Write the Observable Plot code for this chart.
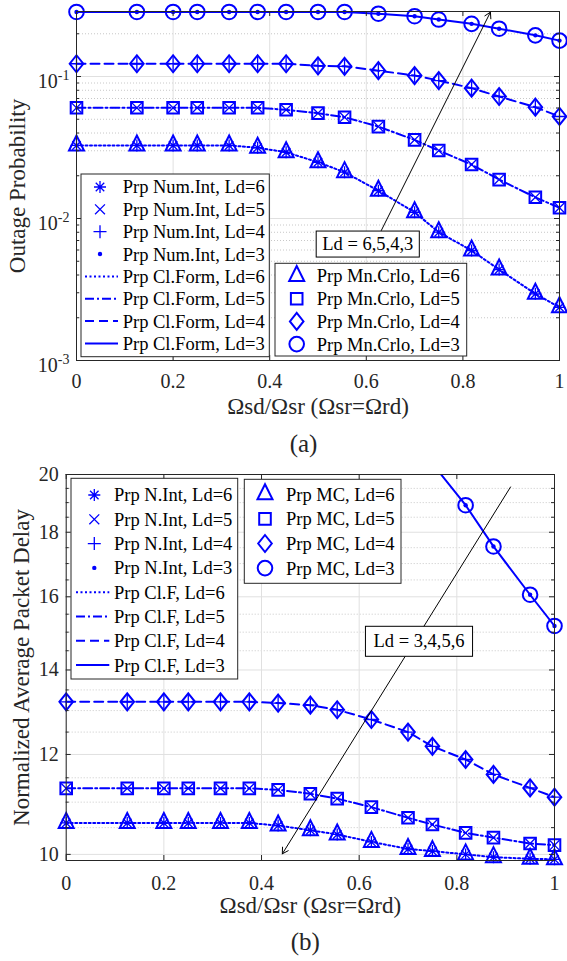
<!DOCTYPE html>
<html><head><meta charset="utf-8">
<script src="https://cdn.jsdelivr.net/npm/d3@7"></script>
<script src="https://cdn.jsdelivr.net/npm/@observablehq/plot@0.6"></script>
<style>
html,body{margin:0;padding:0;background:#fff;}
#wrap{position:relative;width:567px;height:961px;overflow:hidden;font-family:"Liberation Serif","Times New Roman",serif;}
#wrap svg{position:absolute;left:0;top:0;}
</style></head><body><div id="wrap"></div>
<script>
// ---------- data ----------
const xs = [0, 0.125, 0.2, 0.25, 0.316, 0.375, 0.434, 0.5, 0.555, 0.625, 0.7, 0.75, 0.818, 0.875, 0.95, 1];

// (a) outage probability
const outLd6 = [0.0327,0.0327,0.0327,0.0327,0.0327,0.0315,0.0293,0.0249,0.0212,0.0157,0.01107,0.00801,0.00595,0.00437,0.00295,0.00237];
const outLd5 = [0.0602,0.0602,0.0602,0.0602,0.0602,0.0602,0.0583,0.0552,0.0517,0.0444,0.0358,0.0301,0.0240,0.0188,0.0141,0.0119];
const outLd4 = [0.123,0.123,0.123,0.123,0.123,0.123,0.123,0.119,0.118,0.110,0.1016,0.0937,0.0828,0.0723,0.0608,0.0523];
const outLd3 = [0.285,0.285,0.285,0.285,0.285,0.285,0.285,0.285,0.285,0.277,0.266,0.252,0.235,0.217,0.195,0.179];

// (b) normalized average packet delay
const delLd6 = [10.59,10.59,10.59,10.59,10.59,10.59,10.54,10.45,10.37,10.23,10.10,10.06,10.00,9.95,9.92,9.91];
const delLd5 = [11.28,11.28,11.28,11.28,11.28,11.28,11.25,11.17,11.07,10.90,10.69,10.56,10.40,10.31,10.20,10.17];
const delLd4 = [13.21,13.21,13.21,13.21,13.21,13.21,13.18,13.13,13.02,12.79,12.50,12.18,11.89,11.57,11.29,11.10];
const delLd3 = [null,null,null,null,null,null,null,null,null,null,null,20.4,18.91,17.54,16.06,15.17];

const xTicks = [0, 0.2, 0.4, 0.6, 0.8, 1];
const yTicksA = [0.001, 0.01, 0.1];
const yTicksB = [10, 12, 14, 16, 18, 20];

const xLabel = "Ωsd/Ωsr (Ωsr=Ωrd)";
const yLabelA = "Outage Probability";
const yLabelB = "Normalized Average Packet Delay";
const captionA = "(a)";
const captionB = "(b)";

const legendA1 = ["Prp Num.Int, Ld=6","Prp Num.Int, Ld=5","Prp Num.Int, Ld=4","Prp Num.Int, Ld=3","Prp Cl.Form, Ld=6","Prp Cl.Form, Ld=5","Prp Cl.Form, Ld=4","Prp Cl.Form, Ld=3"];
const legendA2 = ["Prp Mn.Crlo, Ld=6","Prp Mn.Crlo, Ld=5","Prp Mn.Crlo, Ld=4","Prp Mn.Crlo, Ld=3"];
const legendB1 = ["Prp N.Int, Ld=6","Prp N.Int, Ld=5","Prp N.Int, Ld=4","Prp N.Int, Ld=3","Prp Cl.F, Ld=6","Prp Cl.F, Ld=5","Prp Cl.F, Ld=4","Prp Cl.F, Ld=3"];
const legendB2 = ["Prp MC, Ld=6","Prp MC, Ld=5","Prp MC, Ld=4","Prp MC, Ld=3"];

const arrowA = [{x1: 0.631, y1: 0.00823, x2: 0.857, y2: 0.284}];
const noteA = [{x: 0.603, y: 0.0066, label: "Ld = 6,5,4,3"}];
const arrowB = [{x1: 0.910, y1: 19.55, x2: 0.4426, y2: 10.01}];
const noteB = [{x: 0.7225, y: 14.75, label: "Ld = 3,4,5,6"}];

// ---------- styles ----------
const BLUE = "#0000ff";
const AX = "#262626";
const R = s => Math.sqrt(s / Math.PI);
const SYM = {
  triangle: {draw(c, s) { const r = R(s); c.moveTo(0, -4/3*r); c.lineTo(r, 2/3*r); c.lineTo(-r, 2/3*r); c.closePath(); }},
  square: {draw(c, s) { const r = R(s); c.moveTo(-r,-r); c.lineTo(r,-r); c.lineTo(r,r); c.lineTo(-r,r); c.closePath(); }},
  diamond: {draw(c, s) { const r = R(s); c.moveTo(0,-1.25*r); c.lineTo(r,0); c.lineTo(0,1.25*r); c.lineTo(-r,0); c.closePath(); }},
  circle: {draw(c, s) { const r = R(s); c.moveTo(r,0); c.arc(0,0,r,0,2*Math.PI); c.closePath(); }},
  asterisk: {draw(c, s) { const r = R(s); for (const a of [0,45,90,135]) { const t=a*Math.PI/180, dx=r*Math.cos(t), dy=r*Math.sin(t); c.moveTo(-dx,-dy); c.lineTo(dx,dy);} }},
  times: {draw(c, s) { const r = R(s)*Math.SQRT1_2; c.moveTo(-r,-r); c.lineTo(r,r); c.moveTo(-r,r); c.lineTo(r,-r); }},
  plus: {draw(c, s) { const r = R(s); c.moveTo(-r,0); c.lineTo(r,0); c.moveTo(0,-r); c.lineTo(0,r); }},
  point: {draw(c, s) { const r = R(s); c.moveTo(r,0); c.arc(0,0,r,0,2*Math.PI); c.closePath(); }}
};
const ST = {
  6: {mc: SYM.triangle, mcR: 7.5, ni: SYM.asterisk, niR: 6, dash: "2,2.5"},
  5: {mc: SYM.square, mcR: 5.8, ni: SYM.times, niR: 7, dash: "9,3,2,3"},
  4: {mc: SYM.diamond, mcR: 6.8, ni: SYM.plus, niR: 7, dash: "9,5"},
  3: {mc: SYM.circle, mcR: 7.3, ni: SYM.point, niR: 2.2, dash: "none"}
};

function seriesMarks(vals, st, maxY) {
  const data = xs.map((x, i) => ({x, y: vals[i]})).filter(d => d.y != null);
  const shown = maxY ? data.filter(d => d.y <= maxY) : data;
  const isPt = st.ni === SYM.point;
  return [
    Plot.line(data, {x: "x", y: "y", stroke: BLUE, strokeWidth: 2, strokeDasharray: st.dash, clip: !!maxY}),
    Plot.dot(shown, {x: "x", y: "y", symbol: st.ni, r: st.niR, stroke: isPt ? "none" : BLUE, strokeWidth: 1.3, fill: isPt ? BLUE : "none"}),
    Plot.dot(shown, {x: "x", y: "y", symbol: st.mc, r: st.mcR, stroke: BLUE, strokeWidth: 2, fill: "none"})
  ];
}

function tickMarks(yMajor, yMinor, pw, ph) {
  const L = 5, l = 3;
  return [
    Plot.tickX(xTicks, {x: d => d, insetTop: ph - L, stroke: AX}),
    Plot.tickX(xTicks, {x: d => d, insetBottom: ph - L, stroke: AX}),
    Plot.tickY(yMajor, {y: d => d, insetRight: pw - L, stroke: AX}),
    Plot.tickY(yMajor, {y: d => d, insetLeft: pw - L, stroke: AX}),
    Plot.tickY(yMinor, {y: d => d, insetRight: pw - l, stroke: AX}),
    Plot.tickY(yMinor, {y: d => d, insetLeft: pw - l, stroke: AX})
  ];
}

const styleObj = {background: "transparent", fontFamily: '"Liberation Serif","Times New Roman",serif', color: AX, overflow: "visible"};
const TXT = {textAnchor: "middle", lineAnchor: "middle", fill: AX};

// ---------- plot (a) ----------
const topA = 0.287;
const minorA = [];
for (const k of [-3, -2, -1]) for (let m = 2; m <= 9; m++) { const v = m * Math.pow(10, k); if (v < topA) minorA.push(v); }
const mA = {t: 11, b: 360, l: 76, r: 559};
const svgA = Plot.plot({
  width: 567, height: 961,
  marginTop: mA.t, marginBottom: 961 - mA.b, marginLeft: mA.l, marginRight: 567 - mA.r,
  style: styleObj,
  x: {domain: [0, 1], label: null},
  y: {type: "log", domain: [0.001, topA], label: null},
  marks: [
    Plot.ruleY(minorA, {stroke: "#c8c8c8", strokeDasharray: "1,2"}),
    Plot.ruleY(yTicksA, {stroke: "#e0e0e0"}),
    Plot.ruleX(xTicks, {stroke: "#e0e0e0"}),
    ...seriesMarks(outLd6, ST[6]),
    ...seriesMarks(outLd5, ST[5]),
    ...seriesMarks(outLd4, ST[4]),
    ...seriesMarks(outLd3, ST[3]),
    Plot.frame({stroke: AX, strokeWidth: 1}),
    ...tickMarks(yTicksA, minorA, mA.r - mA.l, mA.b - mA.t),
    Plot.axisX({ticks: xTicks, tickSize: 0, tickPadding: 13, tickFormat: d => String(d), fontSize: 20, label: null}),
    Plot.axisY({ticks: yTicksA, tickSize: 0, tickPadding: 7, tickFormat: d => "10^" + Math.round(Math.log10(d)), fontSize: 20, label: null}),
    Plot.text([xLabel], {...TXT, text: d => d, frameAnchor: "bottom", dy: 46.4, fontSize: 23}),
    Plot.text([captionA], {...TXT, text: d => d, frameAnchor: "bottom", dx: -14.5, dy: 83.6, fontSize: 25}),
    Plot.text([yLabelA], {...TXT, text: d => d, frameAnchor: "left", dx: 17 - mA.l, rotate: -90, fontSize: 23}),
    Plot.arrow(arrowA, {x1: "x1", y1: "y1", x2: "x2", y2: "y2", stroke: "black", strokeWidth: 1, headLength: 10}),
    Plot.text(noteA, {...TXT, x: "x", y: "y", text: "label", fontSize: 18.5, fill: "black"})
  ]
});

// ---------- plot (b) ----------
const botB = 9.889;
const minorB = d3.range(10, 20.001, 0.5).filter(v => !yTicksB.includes(v));
const mB = {t: 474, b: 860, l: 65.7, r: 554};
const svgB = Plot.plot({
  width: 567, height: 961,
  marginTop: mB.t, marginBottom: 961 - mB.b, marginLeft: mB.l, marginRight: 567 - mB.r,
  style: styleObj,
  x: {domain: [0, 1], label: null},
  y: {type: "log", domain: [botB, 20], label: null},
  marks: [
    Plot.ruleY(minorB, {stroke: "#c8c8c8", strokeDasharray: "1,2"}),
    Plot.ruleY(yTicksB, {stroke: "#e0e0e0"}),
    Plot.ruleX(xTicks, {stroke: "#e0e0e0"}),
    ...seriesMarks(delLd6, ST[6]),
    ...seriesMarks(delLd5, ST[5]),
    ...seriesMarks(delLd4, ST[4]),
    ...seriesMarks(delLd3, ST[3], 20),
    Plot.frame({stroke: AX, strokeWidth: 1}),
    ...tickMarks(yTicksB, minorB, mB.r - mB.l, mB.b - mB.t),
    Plot.axisX({ticks: xTicks, tickSize: 0, tickPadding: 15, tickFormat: d => String(d), fontSize: 20, label: null}),
    Plot.axisY({ticks: yTicksB, tickSize: 0, tickPadding: 7.4, tickFormat: d => String(d), fontSize: 20, label: null}),
    Plot.text([xLabel], {...TXT, text: d => d, frameAnchor: "bottom", dy: 45.5, fontSize: 23}),
    Plot.text([captionB], {...TXT, text: d => d, frameAnchor: "bottom", dx: -5, dy: 81.6, fontSize: 25}),
    Plot.text([yLabelB], {...TXT, text: d => d, frameAnchor: "left", dx: 21 - mB.l, rotate: -90, fontSize: 23}),
    Plot.arrow(arrowB, {x1: "x1", y1: "y1", x2: "x2", y2: "y2", stroke: "black", strokeWidth: 1, headLength: 10}),
    Plot.text(noteB, {...TXT, x: "x", y: "y", text: "label", fontSize: 18.5, fill: "black"})
  ]
});

const wrap = document.getElementById("wrap");
wrap.append(svgA, svgB);

// superscript exponents on log ticks
d3.select(svgA).selectAll("text").each(function () {
  const m = /^10\^(-?\d+)$/.exec(this.textContent);
  if (!m) return;
  this.textContent = "";
  const sel = d3.select(this);
  sel.append("tspan").attr("dy", 5).text("10");
  sel.append("tspan").attr("dy", -8).attr("font-size", 14).text(m[1]);
});

// boxes around annotation labels
function boxText(svg, label, padX, padY) {
  d3.select(svg).selectAll("text").filter(function () { return this.textContent === label; }).each(function () {
    const bb = this.getBBox();
    const rect = document.createElementNS("http://www.w3.org/2000/svg", "rect");
    rect.setAttribute("x", bb.x - padX); rect.setAttribute("y", bb.y - padY);
    rect.setAttribute("width", bb.width + 2 * padX); rect.setAttribute("height", bb.height + 2 * padY);
    rect.setAttribute("fill", "white"); rect.setAttribute("stroke", "black"); rect.setAttribute("stroke-width", 1);
    const tr = this.getAttribute("transform"); if (tr) rect.setAttribute("transform", tr);
    this.parentNode.insertBefore(rect, this);
  });
}
boxText(svgA, noteA[0].label, 6, 3);
boxText(svgB, noteB[0].label, 8, 5);

// legends
function legend(svg, box, labels, rows, cfg) {
  const g = d3.select(svg).append("g").attr("text-anchor", "start");
  g.append("rect").attr("x", box.x).attr("y", box.y).attr("width", box.w).attr("height", box.h)
    .attr("fill", "white").attr("stroke", AX).attr("stroke-width", 1);
  labels.forEach((label, i) => {
    const y = cfg.y0 + i * cfg.dy;
    const row = rows[i];
    if (row.dash) g.append("line").attr("x1", cfg.l1).attr("x2", cfg.l2).attr("y1", y).attr("y2", y)
      .attr("stroke", BLUE).attr("stroke-width", 2).attr("stroke-dasharray", row.dash);
    if (row.sym) g.append("path").attr("transform", `translate(${cfg.mx},${y})`)
      .attr("d", d3.symbol(row.sym, Math.PI * row.r * row.r)())
      .attr("fill", row.fill ? BLUE : "none").attr("stroke", row.fill ? "none" : BLUE).attr("stroke-width", row.sw || 2);
    g.append("text").attr("x", cfg.tx).attr("y", y).attr("dy", "0.35em").attr("text-anchor", "start")
      .attr("font-size", 18.5).attr("fill", "black").text(label);
  });
}
const rowsLeft = [
  {sym: SYM.asterisk, r: 6, sw: 1.3}, {sym: SYM.times, r: 7, sw: 1.3}, {sym: SYM.plus, r: 6.5, sw: 1.3}, {sym: SYM.point, r: 2.2, fill: true},
  {dash: ST[6].dash}, {dash: ST[5].dash}, {dash: ST[4].dash}, {dash: "none"}
];
const rowsRight = [6, 5, 4, 3].map(k => ({sym: ST[k].mc, r: ST[k].mcR}));
legend(svgA, {x: 81, y: 174, w: 188.3, h: 182.7}, legendA1, rowsLeft, {y0: 187, dy: 22.35, mx: 100, l1: 85, l2: 118, tx: 122.7});
legend(svgA, {x: 275, y: 263.3, w: 191.7, h: 92.7}, legendA2, rowsRight, {y0: 276, dy: 22.7, mx: 296.7, tx: 316.7});
legend(svgB, {x: 71, y: 478.3, w: 166.7, h: 200.7}, legendB1, rowsLeft, {y0: 495, dy: 24.3, mx: 94.3, l1: 76, l2: 109.3, tx: 114});
legend(svgB, {x: 244.3, y: 479.3, w: 156.7, h: 104}, legendB2, rowsRight, {y0: 494.3, dy: 24.6, mx: 265, tx: 286});
</script></body></html>
